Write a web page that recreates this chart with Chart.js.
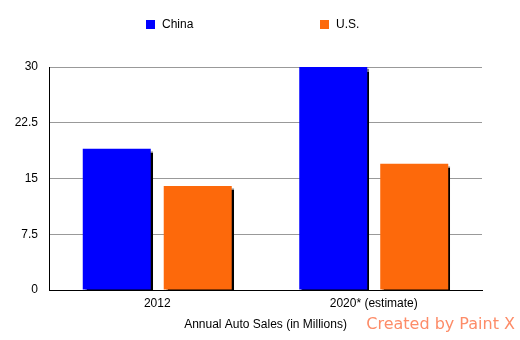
<!DOCTYPE html>
<html>
<head>
<meta charset="utf-8">
<script src="https://cdn.jsdelivr.net/npm/chart.js@4"></script>
<style>
  html, body { margin: 0; padding: 0; background: #fff; }
  #wrap { width: 520px; height: 340px; }
</style>
</head>
<body>
<div id="wrap"><canvas id="salesChart" width="520" height="340"></canvas></div>
<script>
const categories = ['2012', '2020* (estimate)'];
const chinaSales = [19, 30];
const usSales = [14, 17];
const yTicks = [0, 7.5, 15, 22.5, 30];

const FONT = '"Liberation Sans", Arial, Helvetica, sans-serif';

// bar drop shadow
const shadowPlugin = {
  id: 'barShadow',
  beforeDatasetsDraw(chart) {
    const ctx = chart.ctx;
    ctx.save();
    ctx.shadowColor = 'rgba(0,0,0,1)';
    ctx.shadowOffsetX = 2;
    ctx.shadowOffsetY = 2;
    ctx.shadowBlur = 1;
  },
  afterDatasetsDraw(chart) {
    chart.ctx.restore();
  }
};

// wide-spaced legend + watermark
const extrasPlugin = {
  id: 'extras',
  afterDraw(chart) {
    const ctx = chart.ctx;
    const spots = [146, 320];
    ctx.save();
    ctx.font = '12px ' + FONT;
    ctx.textBaseline = 'middle';
    chart.data.datasets.forEach((ds, i) => {
      ctx.fillStyle = ds.backgroundColor;
      ctx.fillRect(spots[i], 20, 9, 9);
      ctx.fillStyle = '#000';
      ctx.fillText(ds.label, spots[i] + 16, 25);
    });
    ctx.font = '16px "DejaVu Sans", Verdana, sans-serif';
    ctx.fillStyle = '#fd8c68';
    ctx.textAlign = 'right';
    ctx.textBaseline = 'alphabetic';
    ctx.fillText('Created by Paint X', 515, 329);
    ctx.restore();
  }
};

new Chart(document.getElementById('salesChart'), {
  type: 'bar',
  data: {
    labels: categories,
    datasets: [
      { label: 'China', data: chinaSales, backgroundColor: '#0000ff' },
      { label: 'U.S.', data: usSales, backgroundColor: '#fd690b' }
    ]
  },
  options: {
    responsive: false,
    animation: false,
    events: [],
    layout: { padding: { top: 67, right: 38, bottom: 0, left: 0 } },
    datasets: { bar: { categoryPercentage: 0.748, barPercentage: 0.84 } },
    plugins: { legend: { display: false }, tooltip: { enabled: false } },
    scales: {
      x: {
        grid: { display: false, drawTicks: false },
        border: { color: '#000', width: 1 },
        ticks: { color: '#000', font: { family: FONT, size: 12 }, padding: 6 },
        title: {
          display: true,
          text: 'Annual Auto Sales (in Millions)',
          color: '#000',
          font: { family: FONT, size: 12 },
          padding: { top: 4, bottom: 8 }
        },
        afterFit: s => { s.height = 50; }
      },
      y: {
        min: 0,
        max: 30,
        afterBuildTicks: s => { s.ticks = yTicks.map(v => ({ value: v })); },
        grid: { color: '#999', drawTicks: false },
        border: { color: '#000', width: 1 },
        ticks: { color: '#000', font: { family: FONT, size: 12 }, padding: 11 },
        afterFit: s => { s.width = 49; }
      }
    }
  },
  plugins: [shadowPlugin, extrasPlugin]
});
</script>
</body>
</html>
